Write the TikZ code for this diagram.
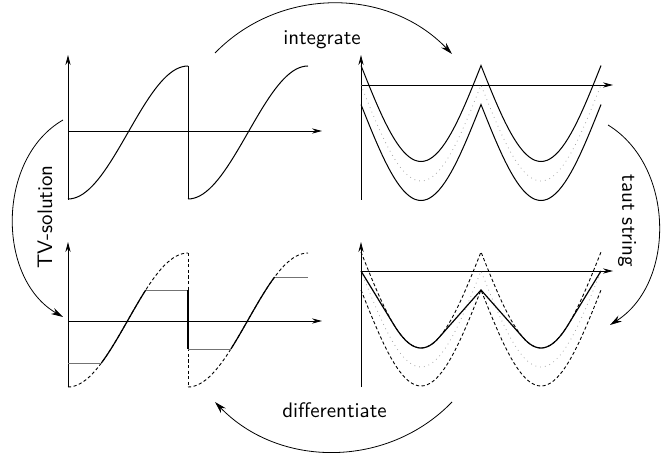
\documentclass[tikz,border=0pt]{standalone}
\usetikzlibrary{arrows.meta}

\begin{document}
\begin{tikzpicture}[
  x=0.5pt, y=-0.5pt,
  font=\sffamily\fontsize{10.5}{12}\selectfont,
  >={Stealth[length=5pt,width=2.6pt]},
  axis/.style={->, line width=0.45pt},
  curve/.style={line width=0.5pt},
  tube/.style={line width=0.45pt, dash pattern=on 1.6pt off 1.2pt},
  data/.style={black!35, line width=0.4pt, dotted},
  flat/.style={black!55, line width=0.45pt},
  bender/.style={-{Stealth[length=6pt,width=3.4pt]}, line width=0.4pt}
]
  \useasboundingbox (0,0) rectangle (668,454);

  % signal
  \draw[axis] (68,200) -- (68,55);
  \draw[axis] (68,131) -- (322,131);
  \draw[curve] plot[domain=68:188, samples=41] (\x,{132.5+66.5*cos(1.5*(\x-68))});
  \draw[curve] (188,66) -- (188,199);
  \draw[curve] plot[domain=188:308, samples=41] (\x,{132.5+66.5*cos(1.5*(\x-188))});

  % integral with tube
  \draw[axis] (361,200) -- (361,55);
  \draw[axis] (361,85) -- (613,85);
  \draw[data] plot[domain=361:601, samples=81] (\x,{85+96*abs(sin(1.5*(\x-361)))});
  \draw[curve] plot[domain=361:601, samples=81] (\x,{65.5+96*abs(sin(1.5*(\x-361)))});
  \draw[curve] plot[domain=361:601, samples=81] (\x,{104.5+96*abs(sin(1.5*(\x-361)))});

  % taut string
  \draw[axis] (361,387) -- (361,242);
  \draw[axis] (361,271) -- (613,271);
  \draw[data] plot[domain=361:601, samples=81] (\x,{271+96*abs(sin(1.5*(\x-361)))});
  \draw[tube] plot[domain=361:601, samples=81] (\x,{252+96*abs(sin(1.5*(\x-361)))});
  \draw[tube] plot[domain=361:601, samples=81] (\x,{290+96*abs(sin(1.5*(\x-361)))});
  \draw[curve, line width=0.6pt] (361,271) -- (394,325)
    -- plot[domain=394:438.6, samples=20] (\x,{252+96*abs(sin(1.5*(\x-361)))})
    -- (481,290)
    -- plot[domain=523.2:568, samples=20] (\x,{252+96*abs(sin(1.5*(\x-361)))})
    -- (601,271);

  % tv solution
  \draw[axis] (68,387) -- (68,242);
  \draw[axis] (68,321) -- (322,321);
  \draw[tube] plot[domain=68:188, samples=41] (\x,{320+67*cos(1.5*(\x-68))});
  \draw[tube] (188,253) -- (188,387);
  \draw[tube] plot[domain=188:308, samples=41] (\x,{320+67*cos(1.5*(\x-188))});
  \draw[flat] (68,363) -- (101.4,363);
  \draw[curve, line width=0.6pt] plot[domain=101.4:145.7, samples=20] (\x,{320+67*cos(1.5*(\x-68))});
  \draw[flat] (145.7,290) -- (188,290);
  \draw[curve, line width=0.6pt] (188,290) -- (188,349);
  \draw[flat] (188,349) -- (230.9,349);
  \draw[curve, line width=0.6pt] plot[domain=230.9:274.6, samples=20] (\x,{320+67*cos(1.5*(\x-188))});
  \draw[flat] (274.6,277) -- (308,277);

  % steps between the panels
  \coordinate (int-a) at (215,53);
  \coordinate (int-b) at (452,54);
  \coordinate (taut-a) at (608,125);
  \coordinate (taut-b) at (610,325);
  \coordinate (diff-a) at (452,402);
  \coordinate (diff-b) at (215,402);
  \coordinate (tv-a) at (63,120);
  \coordinate (tv-b) at (63,317);

  \draw[bender] (int-a) to[bend left=46] (int-b);
  \draw[bender] (taut-a) to[bend left=58] (taut-b);
  \draw[bender] (diff-a) to[bend left=46] (diff-b);
  \draw[bender] (tv-a) to[bend right=60] (tv-b);

  \node (lint) at (322,39.5) {integrate};
  \node (ldiff) at (334.5,410.5) {differentiate};
  \node[rotate=90] (ltv) at (45,217) {TV-solution};
  \node[rotate=-90] (ltaut) at (627,221) {taut string};
\end{tikzpicture}
\end{document}
